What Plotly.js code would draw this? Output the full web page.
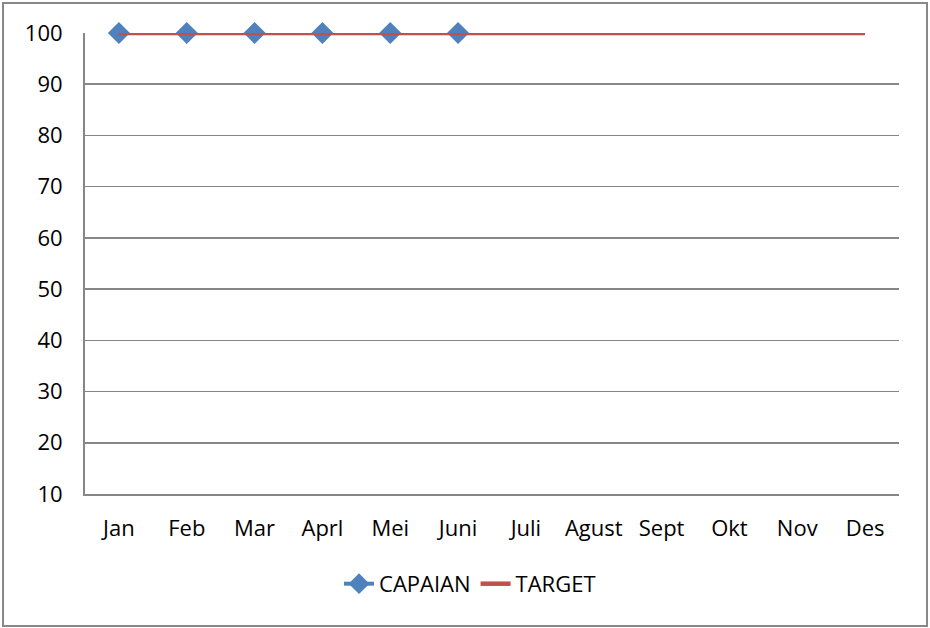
<!DOCTYPE html>
<html>
<head>
<meta charset="utf-8">
<script src="https://cdn.plot.ly/plotly-3.0.1.min.js"></script>
<style>html,body{margin:0;padding:0;background:#fff;}#chart{width:930px;height:628px;}</style>
</head>
<body>
<div id="chart"></div>
<script>
const months = ["Jan","Feb","Mar","Aprl","Mei","Juni","Juli","Agust","Sept","Okt","Nov","Des"];
const capaian = [100,100,100,100,100,100,null,null,null,null,null,null];
const target = [100,100,100,100,100,100,100,100,100,100,100,100];
const yTicks = [10,20,30,40,50,60,70,80,90,100];

const traces = [
  {x: months, y: capaian, name: "CAPAIAN", type: "scatter", mode: "lines+markers", cliponaxis: false,
   line: {color: "#4F81BD", width: 4}, marker: {symbol: "diamond", size: 17, color: "#4F81BD"}},
  {x: months, y: target, name: "TARGET", type: "scatter", mode: "lines", cliponaxis: false,
   line: {color: "#C0504D", width: 4.5}}
];

const layout = {
  width: 930, height: 628,
  margin: {l: 85, r: 31, t: 33, b: 134},
  paper_bgcolor: "#fff", plot_bgcolor: "#fff",
  font: {family: "'Open Sans', sans-serif", size: 22, color: "#000"},
  showlegend: true,
  legend: {orientation: "h", x: 0.473, xanchor: "center", y: -0.195, yanchor: "middle",
           font: {size: 22}, itemwidth: 30, tracegroupgap: 0},
  xaxis: {type: "category", range: [-0.5, 11.5], showgrid: false, showline: true,
          linecolor: "#868686", linewidth: 2, ticks: "outside", ticklen: 14, tickcolor: "rgba(0,0,0,0)",
          zeroline: false, fixedrange: true},
  yaxis: {range: [10, 100], tickvals: yTicks, showgrid: true, gridcolor: "#868686", gridwidth: 1.5,
          showline: true, linecolor: "#868686", linewidth: 2, ticks: "outside", ticklen: 16,
          tickcolor: "rgba(0,0,0,0)", zeroline: false, fixedrange: true},
  shapes: [{type: "rect", xref: "paper", yref: "paper", x0: -0.1007, x1: 1.0344, y0: -0.2863, y1: 1.0651,
            line: {color: "#888", width: 2}}]
};
Plotly.newPlot("chart", traces, layout, {staticPlot: true});
</script>
</body>
</html>
